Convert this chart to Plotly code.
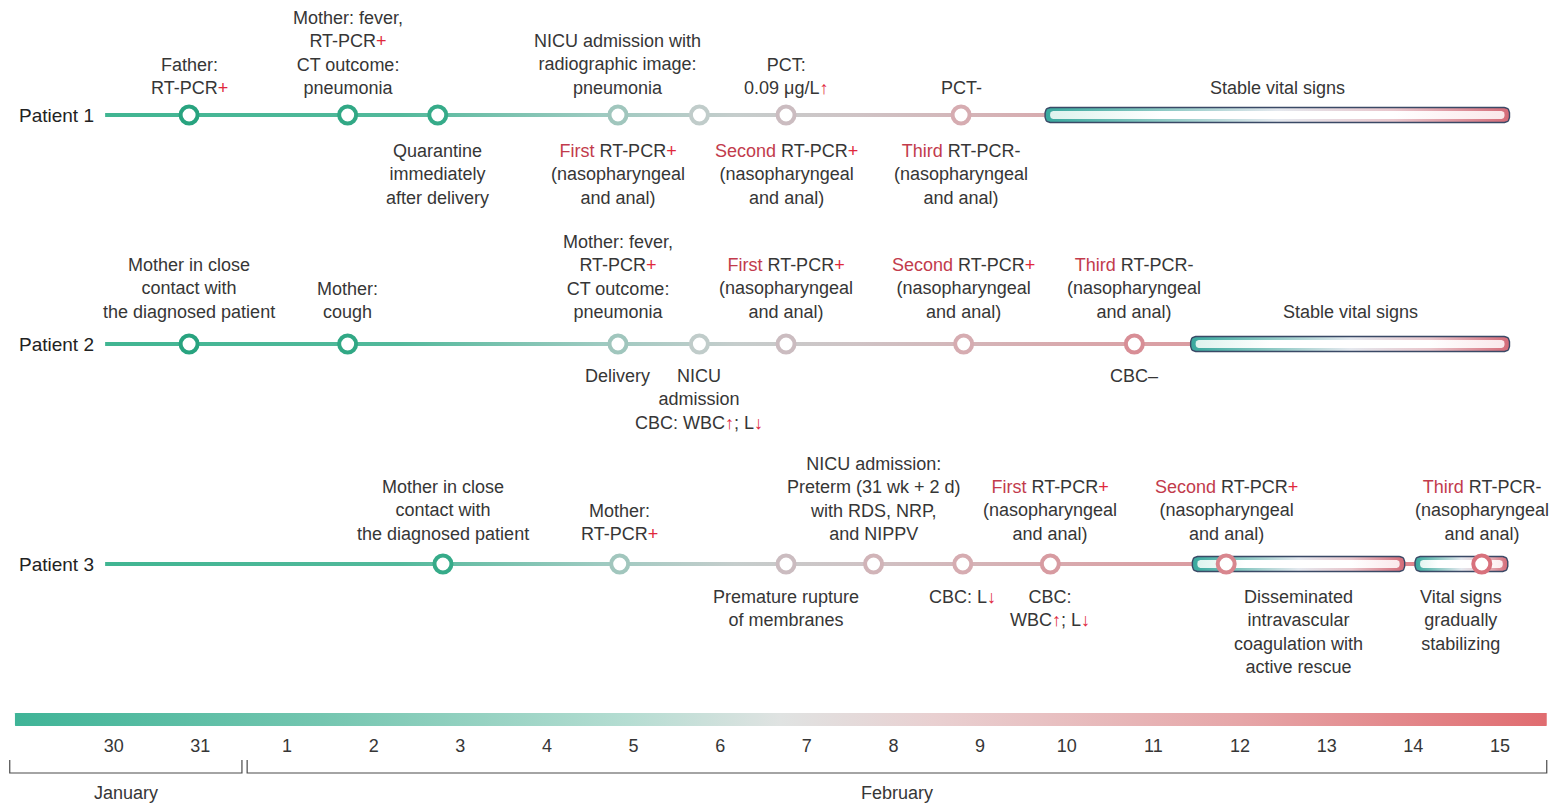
import numpy as np
import plotly.graph_objects as go

# ---------------- data ----------------
tick_days = [-1, 0, 1, 2, 3, 4, 5, 6, 7, 8, 9, 10, 11, 12, 13, 14, 15]
tick_labels = ["30", "31", "1", "2", "3", "4", "5", "6", "7", "8", "9",
               "10", "11", "12", "13", "14", "15"]
months = ["January", "February"]
month_start = [-2.20, 0.54]
month_end = [0.48, 15.54]

patients = ["Patient 1", "Patient 2", "Patient 3"]
timeline_start = [-1.10, -1.10, -1.10]
timeline_end = [9.75, 11.43, 15.09]

RED_WORD = "#c23b4c"
RED_SIGN = "#e0283c"


def red(s, c=RED_WORD):
    return f"<span style='color:{c}'>{s}</span>"


PLUS = red("+", RED_SIGN)
UP = red("↑", RED_SIGN)
DOWN = red("↓", RED_SIGN)


def rtpcr(order, sign):
    s = PLUS if sign == "+" else "-"
    return f"{red(order)} RT-PCR{s}<br>(nasopharyngeal<br>and anal)"


# Patient 1 events
p1_days = [-0.13, 1.70, 2.74, 4.82, 5.76, 6.76, 8.78]
p1_above = ["Father:<br>RT-PCR" + PLUS,
            "Mother: fever,<br>RT-PCR" + PLUS + "<br>CT outcome:<br>pneumonia",
            "",
            "NICU admission with<br>radiographic image:<br>pneumonia",
            "",
            "PCT:<br>0.09 μg/L" + UP,
            "PCT-"]
p1_below = ["", "", "Quarantine<br>immediately<br>after delivery",
            rtpcr("First", "+"), "", rtpcr("Second", "+"), rtpcr("Third", "-")]
p1_bars = [(9.75, 15.11)]
p1_bar_above = ["Stable vital signs"]
p1_bar_below = [""]

# Patient 2 events
p2_days = [-0.13, 1.70, 4.82, 5.76, 6.76, 8.81, 10.78]
p2_above = ["Mother in close<br>contact with<br>the diagnosed patient",
            "Mother:<br>cough",
            "Mother: fever,<br>RT-PCR" + PLUS + "<br>CT outcome:<br>pneumonia",
            "",
            rtpcr("First", "+"), rtpcr("Second", "+"), rtpcr("Third", "-")]
p2_below = ["", "", "Delivery",
            "NICU<br>admission<br>CBC: WBC" + UP + "; L" + DOWN,
            "", "", "CBC–"]
p2_bars = [(11.43, 15.11)]
p2_bar_above = ["Stable vital signs"]
p2_bar_below = [""]

# Patient 3 events
p3_days = [2.80, 4.84, 6.76, 7.77, 8.80, 9.81, 11.84, 14.79]
p3_above = ["Mother in close<br>contact with<br>the diagnosed patient",
            "Mother:<br>RT-PCR" + PLUS,
            "",
            "NICU admission:<br>Preterm (31 wk + 2 d)<br>with RDS, NRP,<br>and NIPPV",
            "",
            rtpcr("First", "+"), rtpcr("Second", "+"), rtpcr("Third", "-")]
p3_below = ["", "", "Premature rupture<br>of membranes", "",
            "CBC: L" + DOWN, "CBC:<br>WBC" + UP + "; L" + DOWN, "", ""]
p3_bars = [(11.45, 13.90), (14.02, 15.09)]
p3_bar_above = ["", ""]
p3_bar_below = ["Disseminated<br>intravascular<br>coagulation with<br>active rescue",
                "Vital signs<br>gradually<br>stabilizing"]

events = [
    (p1_days, p1_above, p1_below, p1_bars, p1_bar_above, p1_bar_below),
    (p2_days, p2_above, p2_below, p2_bars, p2_bar_above, p2_bar_below),
    (p3_days, p3_above, p3_below, p3_bars, p3_bar_above, p3_bar_below),
]

# ---------------- layout / style ----------------
W, H = 1551, 804
XMIN, XMAX = -2.3125, 15.589
PX_PER_DAY = W / (XMAX - XMIN)
ROW_Y = [115, 344, 564]
ABOVE_GAP = [28, 33, 31]
BELOW_GAP = [37, 33, 34]
GRAD_START, GRAD_STOP = -2.14, 15.54

FONT = "Liberation Sans, Arial, sans-serif"
TXT = "#363636"
FS = 18

line_scale = [[0, "#3bb48f"], [0.25, "#52b99b"], [0.38, "#9ccac0"],
              [0.47, "#c5cdcc"], [0.55, "#cfc3c5"], [0.68, "#d8aaae"],
              [0.85, "#dc9096"], [1, "#e07a82"]]
ring_scale = [[0, "#1f9e78"], [0.28, "#36ab89"], [0.39, "#9ec6bc"],
              [0.45, "#c2cccb"], [0.5, "#cbbcc0"], [0.62, "#d6acb1"],
              [0.7, "#d8939a"], [0.85, "#d87d86"], [1, "#d86c78"]]
bar_scale = [[0, "#3fb497"], [0.2, "#74c6b0"], [0.4, "#b5ddd2"],
             [0.5, "#e0e3e2"], [0.6, "#e9d0d1"], [0.8, "#e6a6a8"],
             [1, "#e06c70"]]
tube_outer = [[0, "#38a89e"], [0.25, "#8cc9c4"], [0.5, "#e4e8ee"],
              [0.75, "#e9c6cc"], [1, "#d46b78"]]
tube_inner = [[0, "#dcf2ed"], [0.25, "#ffffff"], [0.75, "#ffffff"],
              [1, "#fae6e9"]]


def rounded_rect(x0, x1, yc, half_h, r_px):
    """Polygon (data coords) of a rounded rectangle."""
    rx = r_px / PX_PER_DAY
    r = min(r_px, half_h)
    t = np.linspace(0, np.pi / 2, 8)
    xs, ys = [], []
    for cx, cy, a0 in [(x1 - rx, yc - half_h + r, -np.pi / 2),
                       (x1 - rx, yc + half_h - r, 0),
                       (x0 + rx, yc + half_h - r, np.pi / 2),
                       (x0 + rx, yc - half_h + r, np.pi)]:
        a = a0 + t
        xs += list(cx + rx * np.cos(a))
        ys += list(cy + r * np.sin(a))
    xs.append(xs[0])
    ys.append(ys[0])
    return xs, ys


fig = go.Figure()

# bottom colour bar
bx, by = rounded_rect(GRAD_START, GRAD_STOP, 719.5, 6.5, 0.5)
fig.add_trace(go.Scatter(
    x=bx, y=by, mode="lines", fill="toself", line=dict(width=0),
    fillgradient=dict(type="horizontal", colorscale=bar_scale,
                      start=GRAD_START, stop=GRAD_STOP),
    hoverinfo="skip"))

# tick labels
fig.add_trace(go.Scatter(
    x=tick_days, y=[747] * len(tick_days), mode="text", text=tick_labels,
    textfont=dict(family=FONT, size=FS, color=TXT), hoverinfo="skip"))

# month brackets
for m, s, e in zip(months, month_start, month_end):
    fig.add_trace(go.Scatter(
        x=[s, s, e, e], y=[760, 773, 773, 760], mode="lines",
        line=dict(color="#4a4a4a", width=1.2), hoverinfo="skip"))
    fig.add_annotation(x=(s + e) / 2, y=793, text=m, showarrow=False,
                       font=dict(family=FONT, size=FS, color=TXT))

annotations = []
for i, (name, ts, te, ev) in enumerate(zip(patients, timeline_start,
                                           timeline_end, events)):
    days, above, below, bars, bar_above, bar_below = ev
    yc = ROW_Y[i]
    # timeline line
    lx, ly = rounded_rect(ts, te, yc, 2.0, 0.1)
    fig.add_trace(go.Scatter(
        x=lx, y=ly, mode="lines", fill="toself", line=dict(width=0),
        fillgradient=dict(type="horizontal", colorscale=line_scale,
                          start=GRAD_START, stop=GRAD_STOP),
        hoverinfo="skip"))
    # tube bars
    for (b0, b1) in bars:
        ox, oy = rounded_rect(b0, b1, yc, 7.5, 5)
        fig.add_trace(go.Scatter(
            x=ox, y=oy, mode="lines", fill="toself",
            line=dict(width=1.4, color="#3a4966"),
            fillgradient=dict(type="horizontal", colorscale=tube_outer,
                              start=b0, stop=b1),
            hoverinfo="skip"))
        ix, iy = rounded_rect(b0 + 5 / PX_PER_DAY, b1 - 5 / PX_PER_DAY,
                              yc, 4.0, 3)
        fig.add_trace(go.Scatter(
            x=ix, y=iy, mode="lines", fill="toself", line=dict(width=0),
            fillgradient=dict(type="horizontal", colorscale=tube_inner,
                              start=b0, stop=b1),
            hoverinfo="skip"))
    # event circles
    fig.add_trace(go.Scatter(
        x=days, y=[yc] * len(days), mode="markers",
        marker=dict(size=17, color="white",
                    line=dict(width=4, color=days, colorscale=ring_scale,
                              cmin=GRAD_START, cmax=GRAD_STOP)),
        hoverinfo="skip"))
    # patient label
    annotations.append(dict(x=ts, y=yc, text=name, xanchor="right",
                            xshift=-9, showarrow=False,
                            font=dict(family=FONT, size=19, color="#222")))
    # event texts
    items = list(zip(days, above, below))
    items += [((b0 + b1) / 2, a, b) for (b0, b1), a, b in
              zip(bars, bar_above, bar_below)]
    for x, a, b in items:
        if a:
            annotations.append(dict(x=x, y=yc, text=a, yanchor="bottom",
                                    yshift=ABOVE_GAP[i] - 13, showarrow=False,
                                    font=dict(family=FONT, size=FS, color=TXT)))
        if b:
            annotations.append(dict(x=x, y=yc, text=b, yanchor="top",
                                    yshift=-(BELOW_GAP[i] - 13), showarrow=False,
                                    font=dict(family=FONT, size=FS, color=TXT)))

for a in annotations:
    fig.add_annotation(**a)

fig.update_layout(
    width=W, height=H, margin=dict(l=0, r=0, t=0, b=0),
    paper_bgcolor="white", plot_bgcolor="white", showlegend=False,
    hovermode=False,
    xaxis=dict(range=[XMIN, XMAX], visible=False, fixedrange=True),
    yaxis=dict(range=[H, 0], visible=False, fixedrange=True),
)

fig.write_html("out.html", config={"displayModeBar": False},
               post_script="document.body.style.margin='0';"
                           "document.body.style.overflow='hidden';")
